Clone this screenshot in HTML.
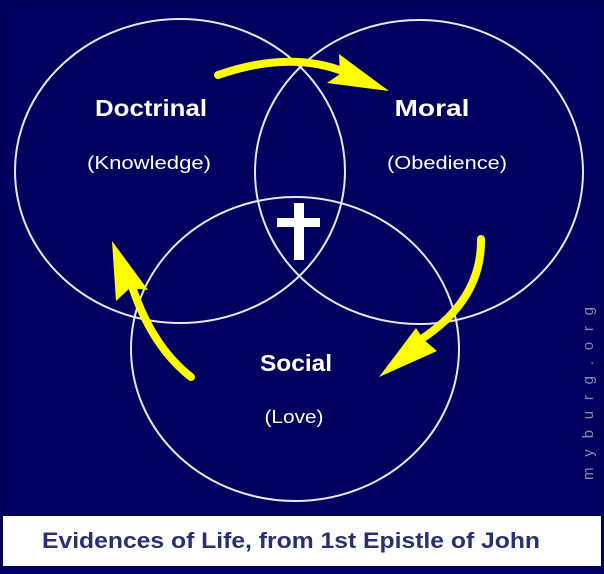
<!DOCTYPE html>
<html><head><style>html,body{margin:0;padding:0;background:#000060}</style></head>
<body>
<svg width="604" height="569" viewBox="0 0 604 569" xmlns="http://www.w3.org/2000/svg" font-family="Liberation Sans, sans-serif">
<rect x="0" y="0" width="604" height="569" fill="#000058"/>
<rect x="3" y="3" width="598" height="512" fill="#00005f"/>
<rect x="3" y="516" width="598" height="50" fill="#ffffff"/>
<g fill="none" stroke="#e8e8f0" stroke-width="2">
<ellipse cx="180" cy="171" rx="165" ry="152"/>
<ellipse cx="419" cy="172" rx="164" ry="152"/>
<ellipse cx="295" cy="349" rx="164" ry="152"/>
</g>
<rect x="277" y="218" width="43" height="9" fill="#fff"/>
<rect x="294" y="203" width="10" height="57" fill="#fff"/>
<g fill="#fff" text-anchor="middle">
<text x="151" y="116" font-size="23" font-weight="bold" textLength="112" lengthAdjust="spacingAndGlyphs">Doctrinal</text>
<text x="149" y="169" font-size="18" textLength="124" lengthAdjust="spacingAndGlyphs">(Knowledge)</text>
<text x="432" y="116" font-size="23" font-weight="bold" textLength="75" lengthAdjust="spacingAndGlyphs">Moral</text>
<text x="447" y="169" font-size="18" textLength="120" lengthAdjust="spacingAndGlyphs">(Obedience)</text>
<text x="296" y="371" font-size="23" font-weight="bold" textLength="72" lengthAdjust="spacingAndGlyphs">Social</text>
<text x="294" y="423" font-size="18" textLength="59" lengthAdjust="spacingAndGlyphs">(Love)</text>
</g>
<g stroke="#ffff00" stroke-width="8" fill="none" stroke-linecap="round">
<path d="M218 75 Q290 50 345 72"/>
<path d="M481 239 Q482 300 420 340"/>
<path d="M191 377 Q150 345 130 280"/>
</g>
<g fill="#ffff00">
<polygon points="339,54 389,91 327,83 340,74"/>
<polygon points="416,328 379,377 437,351 424,340"/>
<polygon points="116,301 112,241 148,290 130,288"/>
</g>
<text transform="translate(593,480) rotate(-90)" font-size="15" fill="#8a8aa8" letter-spacing="5" textLength="178">myburg.org</text>
<text x="42" y="548" font-size="22" font-weight="bold" fill="#2a2f70" textLength="498" lengthAdjust="spacingAndGlyphs">Evidences of Life, from 1st Epistle of John</text>
</svg>
</body></html>
